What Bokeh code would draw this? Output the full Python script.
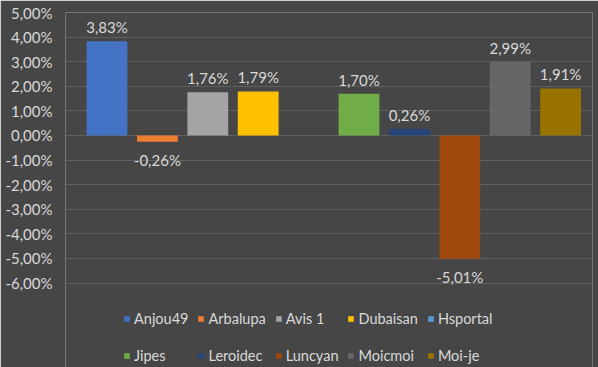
import math
from bokeh.plotting import figure
from bokeh.models import (ColumnDataSource, Range1d, FixedTicker, CustomJSTickFormatter,
                          Legend, LegendItem)
from bokeh.core.properties import value
from bokeh.embed import file_html
from bokeh.resources import INLINE

# ---- data ----
names = ["Anjou49", "Arbalupa", "Avis 1", "Dubaisan", "Hsportal",
         "Jipes", "Leroidec", "Luncyan", "Moicmoi", "Moi-je"]
values = [3.83, -0.26, 1.76, 1.79, float("nan"), 1.70, 0.26, -5.01, 2.99, 1.91]
colors = ["#4472C4", "#ED7D31", "#A5A5A5", "#FFC000", "#5B9BD5",
          "#70AD47", "#264478", "#9E480E", "#666666", "#997300"]
y_ticks = [-6, -5, -4, -3, -2, -1, 0, 1, 2, 3, 4, 5]

FONT = "Lato"
BG = "#464646"
TXT = "#d9d9d9"
GRID = "#606060"
FS = "15px"

# frame extends below the -6 % line to host the legend (gridlines only at ticks)
p = figure(width=598, height=367, output_backend="svg", toolbar_location=None,
           x_range=Range1d(-0.823, 9.633), y_range=Range1d(-9.436, 5),
           min_border_left=65, min_border_right=6, min_border_top=12,
           min_border_bottom=0, background_fill_color=BG, border_fill_color=BG,
           outline_line_color=None)

p.xaxis.visible = False
p.xgrid.visible = False
p.ygrid.grid_line_color = GRID
p.ygrid.grid_line_width = 1
p.yaxis.ticker = FixedTicker(ticks=y_ticks)
p.yaxis.formatter = CustomJSTickFormatter(
    code="return tick.toFixed(2).replace('.', ',') + '%';")
p.yaxis.axis_line_color = None
p.yaxis.major_tick_line_color = None
p.yaxis.minor_tick_line_color = None
p.yaxis.major_tick_out = 0
p.yaxis.major_tick_in = 0
p.yaxis.minor_tick_out = 0
p.yaxis.major_label_text_color = TXT
p.yaxis.major_label_text_font = FONT
p.yaxis.major_label_text_font_size = FS
p.yaxis.major_label_standoff = 13

src = ColumnDataSource(dict(x=list(range(len(names))), top=values,
                            color=colors, name=names))
r = p.vbar(x="x", top="top", bottom=0, width=0.81, fill_color="color",
           line_color=None, source=src)

def fmt(v):
    return f"{v:.2f}".replace(".", ",") + "%"

pos = [(i, v) for i, v in enumerate(values) if not math.isnan(v) and v >= 0]
neg = [(i, v) for i, v in enumerate(values) if not math.isnan(v) and v < 0]
p.text(x=[a for a, _ in pos], y=[b for _, b in pos], text=[fmt(b) for _, b in pos],
       text_align="center", text_baseline="bottom", y_offset=-5,
       text_color=TXT, text_font=value(FONT), text_font_size=FS)
p.text(x=[a for a, _ in neg], y=[b for _, b in neg], text=[fmt(b) for _, b in neg],
       text_align="center", text_baseline="top", y_offset=9,
       text_color=TXT, text_font=value(FONT), text_font_size=FS)

items = [LegendItem(label=n, renderers=[r], index=i) for i, n in enumerate(names)]
legend = Legend(items=items, orientation="horizontal", nrows=2,
                location=(58, -2), padding=0, margin=0, spacing=9,
                glyph_width=7, glyph_height=7, label_standoff=4,
                label_height=28, label_text_color=TXT, label_text_font=FONT,
                label_text_font_size="14.5px", background_fill_alpha=0,
                border_line_color=None)
p.add_layout(legend, "center")

open("out.html", "w").write(file_html(p, INLINE))
